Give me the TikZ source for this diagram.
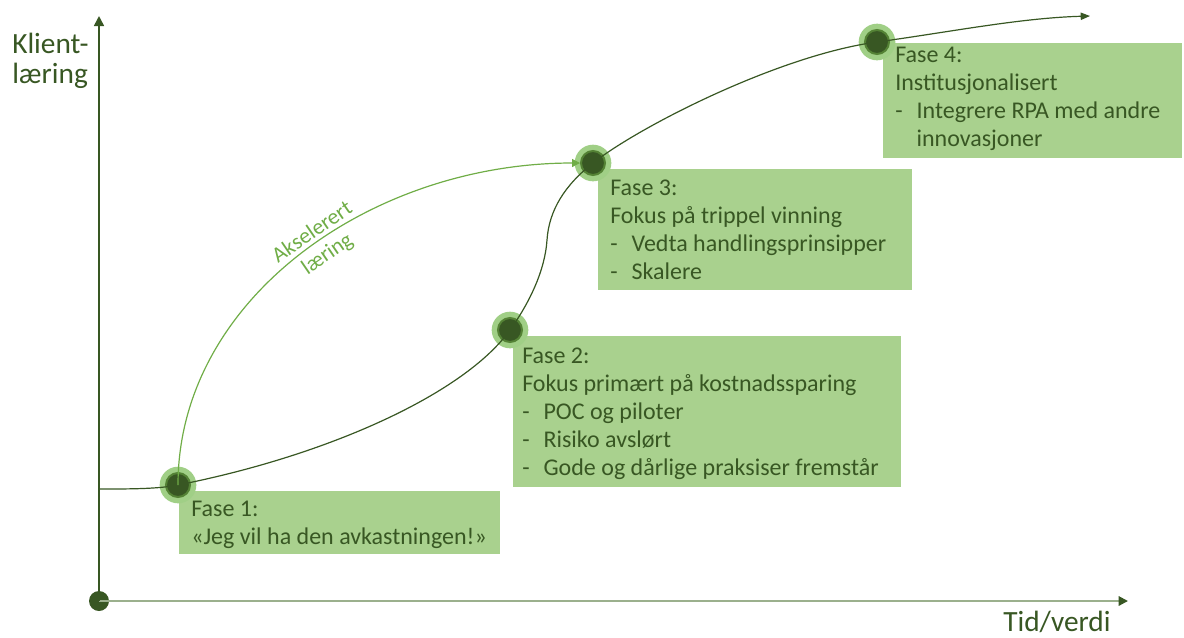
\documentclass[tikz,border=0pt]{standalone}
\usepackage{fontspec}
\setmainfont{Carlito}
\usetikzlibrary{arrows.meta}
\definecolor{boxfill}{HTML}{A9D18E}
\definecolor{darkg}{HTML}{385723}
\definecolor{midg}{HTML}{548235}
\definecolor{accg}{HTML}{70AD47}
\definecolor{axislight}{HTML}{9BB08D}
\definecolor{ringg}{HTML}{A0CF86}
\newcommand{\bul}{\makebox[16pt][l]{-}}
\begin{document}
\begin{tikzpicture}[x=0.75pt,y=-0.75pt,
  phasebox/.style={fill=boxfill, draw=none, anchor=north west, inner sep=0pt, outer sep=0pt},
  phasetext/.style={anchor=base west, inner sep=0pt, text=darkg, font=\fontsize{18pt}{21pt}\selectfont},
  axislabel/.style={anchor=base west, inner sep=0pt, text=darkg, font=\fontsize{22pt}{22.5pt}\selectfont},
  ring/.style={circle, fill=ringg, minimum size=27.5pt, inner sep=0pt},
  core/.style={circle, fill=darkg, draw=midg, line width=1.5pt, minimum size=18pt, inner sep=0pt},
  accel/.style={text=accg, font=\fontsize{16.5pt}{20pt}\selectfont}
]
\useasboundingbox (0,0) rectangle (1184,637);

% boxes
\node[phasebox, minimum width=240.75pt, minimum height=47.25pt] (b1) at (179,491) {};
\node[phasebox, minimum width=291pt, minimum height=113.25pt] (b2) at (513,336) {};
\node[phasebox, minimum width=235.5pt, minimum height=90.75pt] (b3) at (598,169) {};
\node[phasebox, minimum width=224.25pt, minimum height=86.25pt] (b4) at (883,43) {};

% box texts
\node[phasetext] (t1) at (191,516) {\begin{tabular}[t]{@{}l@{}}Fase 1:\\«Jeg vil ha den avkastningen!»\end{tabular}};
\node[phasetext] (t2) at (522,363) {\begin{tabular}[t]{@{}l@{}}Fase 2:\\Fokus primært på kostnadssparing\\\bul POC og piloter\\\bul Risiko avslørt\\\bul Gode og dårlige praksiser fremstår\end{tabular}};
\node[phasetext] (t3) at (610,195) {\begin{tabular}[t]{@{}l@{}}Fase 3:\\Fokus på trippel vinning\\\bul Vedta handlingsprinsipper\\\bul Skalere\end{tabular}};
\node[phasetext] (t4) at (895,62) {\begin{tabular}[t]{@{}l@{}}Fase 4:\\Institusjonalisert\\\bul Integrere RPA med andre\\\hspace*{16pt}innovasjoner\end{tabular}};

% axis labels
\node[axislabel] (ylab) at (12,53) {\begin{tabular}[t]{@{}l@{}}Klient-\\læring\end{tabular}};
\node[axislabel] (xlab) at (1003,631) {Tid/verdi};

% axes
\node[circle, fill=darkg, minimum size=15pt, inner sep=0pt] (o) at (99,601) {};
\coordinate (ytip) at (99,16);
\coordinate (xtip) at (1128,601);
\draw[axislight, line width=1.5pt, -{Triangle[length=7pt,width=7pt,color=darkg]}] (o.center) -- (xtip);
\draw[darkg, line width=1.2pt, -{Triangle[length=7.5pt,width=7.5pt]}] (o.center) -- (ytip);

% dots
\node[ring] (d1) at (178,485) {};
\node[ring] (d2) at (510,330) {};
\node[ring] (d3) at (593,163) {};
\node[ring] (d4) at (877,42) {};
\node[core] (d1i) at (d1) {};
\node[core] (d2i) at (d2) {};
\node[core] (d3i) at (d3) {};
\node[core] (d4i) at (d4) {};

% main curve
\coordinate (s) at (99,489);
\coordinate (m) at (547,240);
\coordinate (e) at (1090,16);
\draw[darkg, line width=0.9pt, -{Triangle[length=7pt,width=5.5pt]}]
  (s) .. controls (130,489) and (158,489) .. (d1.center)
      .. controls (330,455) and (465,393) .. (d2.center)
      .. controls (530,302) and (545,270) .. (m)
      .. controls (549,210) and (565,185) .. (d3.center)
      .. controls (640,126) and (780,55) .. (d4.center)
      .. controls (950,32) and (1020,18) .. (e);

% accelerated learning curve
\draw[accg, line width=0.9pt, -{Triangle[length=6pt,width=6pt]}]
  (d1.center) .. controls (178,300) and (370,163) .. (d3i.west)
  node[accel, pos=0.54, sloped, anchor=south, inner sep=3pt] (lab1) {Akselerert}
  node[accel, pos=0.54, sloped, anchor=north, inner sep=4.5pt] (lab2) {læring};
\end{tikzpicture}
\end{document}
